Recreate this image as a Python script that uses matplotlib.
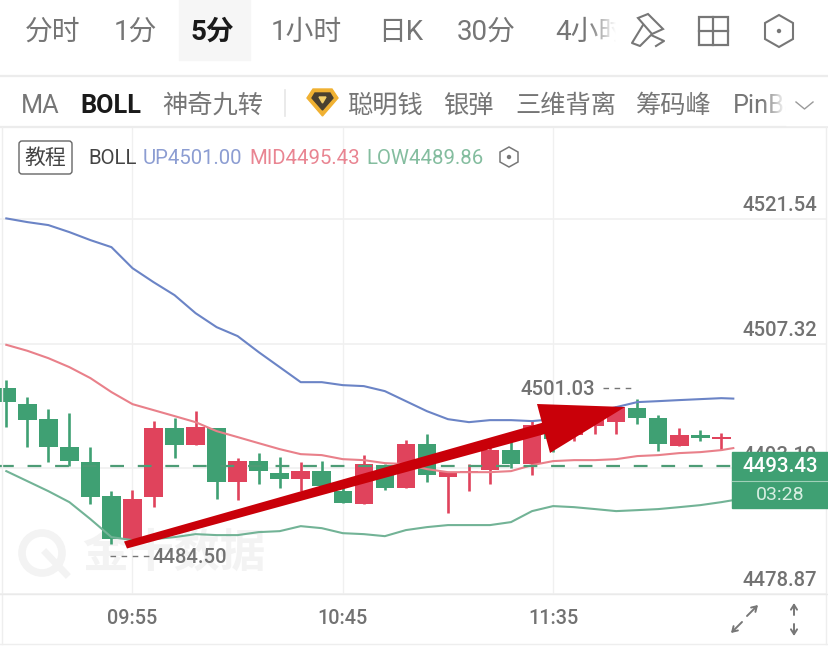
import numpy as np
import matplotlib
matplotlib.use("Agg")
import matplotlib.pyplot as plt
from matplotlib.patches import Polygon, Rectangle, FancyBboxPatch, Circle

plt.rcParams['font.family'] = ['Roboto', 'Noto Sans CJK SC', 'DejaVu Sans']

# ---- data ----
candle_top = [4502.29,4500.54,4498.77,4495.61,4493.90,4490.00,4489.70,4497.70,4497.77,4497.82,
              4497.77,4493.98,4493.95,4492.62,4492.85,4492.85,4490.54,4493.61,4493.53,4495.95,
              4495.95,4492.70,4492.88,4495.27,4495.27,4498.08,4498.77,4498.20,4498.77,4500.10,
              4499.98,4498.85,4496.95,4496.95,4496.74]
candle_bottom = [4500.66,4498.64,4495.57,4493.98,4489.85,4485.11,4485.11,4489.88,4495.84,4495.80,
                 4491.63,4491.60,4492.88,4491.98,4491.91,4491.11,4489.21,4489.09,4490.91,4490.91,
                 4492.36,4492.20,4492.70,4493.00,4493.65,4493.65,4496.49,4496.95,4498.00,4498.46,
                 4498.88,4495.88,4495.73,4496.57,4496.49]
candle_high = [4503.24,4501.24,4499.91,4499.43,4495.61,4490.61,4490.73,4498.57,4498.88,4499.72,
               4497.77,4494.29,4494.90,4494.43,4493.90,4494.02,4491.00,4494.67,4493.65,4496.40,
               4497.05,4492.70,4493.65,4495.55,4496.30,4498.57,4499.34,4498.77,4499.68,4500.25,
               4501.03,4499.22,4497.73,4497.53,4497.24]
candle_low = [4497.82,4495.61,4493.91,4493.45,4489.09,4484.55,4484.50,4488.72,4494.30,4495.80,
              4489.73,4489.57,4491.36,4490.95,4490.61,4491.00,4489.21,4489.09,4490.69,4490.91,
              4491.63,4488.14,4490.54,4491.36,4493.19,4492.43,4495.01,4496.30,4497.05,4497.05,
              4498.20,4495.09,4495.66,4496.30,4495.27]
candle_up = [0,0,0,0,0,0,1,1,0,1,0,1,0,0,1,0,0,1,0,1,0,1,1,1,0,1,0,1,1,1,0,0,1,0,1]

line_index = list(range(35)) + [34.57]
boll_up = [4521.60,4521.18,4520.84,4520.04,4519.13,4518.33,4515.94,4514.35,4512.87,4510.82,
           4509.23,4508.21,4506.39,4504.68,4502.97,4502.97,4502.63,4502.52,4501.95,4500.81,
           4499.67,4498.76,4498.42,4498.65,4498.65,4498.54,4498.76,4499.11,4499.56,4500.13,
           4500.70,4500.81,4500.93,4501.04,4501.15,4501.10]
boll_mid = [4507.22,4506.54,4505.70,4504.68,4503.43,4501.84,4500.47,4499.79,4499.11,4498.42,
            4497.40,4496.72,4496.03,4495.35,4494.78,4494.67,4494.21,4494.10,4493.76,4493.65,
            4493.08,4492.73,4492.73,4492.73,4492.85,4493.53,4493.99,4494.10,4494.10,4494.21,
            4494.56,4494.67,4494.90,4495.01,4495.24,4495.47]
boll_low = [4492.85,4491.71,4490.57,4489.32,4487.39,4485.34,4485.00,4485.11,4485.34,4485.68,
            4485.57,4485.57,4485.91,4486.02,4486.59,4486.36,4485.79,4485.68,4485.45,4486.14,
            4486.48,4486.71,4486.71,4486.71,4487.05,4488.30,4488.87,4488.75,4488.53,4488.30,
            4488.41,4488.53,4488.75,4488.98,4489.32,4489.55]

price_ticks = [4521.54, 4507.32, 4493.19, 4478.87]
time_ticks = [6, 16, 26]
time_labels = ['09:55', '10:45', '11:35']
last_price = 4493.43
countdown = '03:28'
high_price = 4501.03
low_price = 4484.50

W, H = 829, 647
GREEN, RED = '#3fa073', '#e0435c'
BLUE_L, RED_L, GREEN_L = '#6b84c6', '#e9808a', '#72b396'
GRID = '#f0f0f0'
TXT = '#767676'
NUM = dict(fontsize=14.6, color='#727272', weight='medium')

fig = plt.figure(figsize=(W/100, H/100), dpi=100, facecolor='white')

def px_axes(z):
    a = fig.add_axes([0, 0, 1, 1], zorder=z)
    a.set_xlim(0, W); a.set_ylim(H, 0); a.axis('off'); a.patch.set_alpha(0)
    return a

bg = px_axes(0)
fg = px_axes(2)

# ---- watermark ----
bg.add_patch(Circle((42, 553), 20, fill=False, ec='#f3f3f3', lw=5.5))
bg.plot([46, 66], [553, 574], color='#f3f3f3', lw=5)
bg.text(174, 555, '金十数据', fontsize=33, color='#f3f3f3', weight='bold', ha='center', va='center')

# ---- chart axes ----
top_px, bot_px = 127, 594
ax = fig.add_axes([0, 1 - bot_px/H, 1, (bot_px - top_px)/H], zorder=1)
ax.patch.set_alpha(0)
xstep = 21.03
ax.set_xlim(-6.3/xstep, (W - 6.3)/xstep)
ppu = 8.79
ax.set_ylim(price_ticks[-1], price_ticks[-1] + (bot_px - top_px)/ppu)
for s in ax.spines.values():
    s.set_visible(False)
ax.tick_params(left=False, bottom=False, labelleft=False, labelbottom=False)
ax.set_xticks(time_ticks); ax.set_yticks(price_ticks)
ax.set_axisbelow(True)
ax.vlines(time_ticks, ax.get_ylim()[0], ax.get_ylim()[1], color=GRID, lw=1, zorder=0)
ax.hlines(price_ticks, ax.get_xlim()[0], (826-6.3)/xstep, color=GRID, lw=1.2, zorder=0)

idx = np.arange(len(candle_top))
cols = [RED if u else GREEN for u in candle_up]
ax.vlines(idx, candle_low, candle_high, colors=cols, lw=1.9, zorder=2)
ax.bar(idx, np.array(candle_top) - np.array(candle_bottom), bottom=candle_bottom,
       width=0.88, color=cols, zorder=3)

ax.plot(line_index, boll_up, color=BLUE_L, lw=1.5, zorder=4)
ax.plot(line_index, boll_mid, color=RED_L, lw=1.5, zorder=4)
ax.plot(line_index, boll_low, color=GREEN_L, lw=1.5, zorder=4)
ax.hlines(last_price, -0.3, 34.57, color='#4d9c76', lw=1.6, linestyles=(0, (6.2, 6.2)), zorder=4)

for p in price_ticks:
    ax.annotate(f'{p:.2f}', xy=(1, p), xycoords=('axes fraction', 'data'),
                xytext=(-12, 13), textcoords='offset pixels', ha='right', va='center', zorder=1, **NUM)
ax.annotate(f'{high_price:.2f}', xy=(30, high_price), xytext=(-42, 10), textcoords='offset pixels',
            ha='right', va='center', **NUM)
ax.annotate(f'{low_price:.2f}', xy=(6, low_price), xytext=(20, -13), textcoords='offset pixels',
            ha='left', va='center', **NUM)

# ---- chrome ----
fg.add_patch(Rectangle((179, 0), 71, 60, color='#f6f6f6', zorder=0))
fg.plot([0, W], [76, 76], color='#ececec', lw=1.6)
fg.plot([0, W], [127, 127], color='#ececec', lw=1.6)
fg.plot([0, W], [644, 644], color='#eeeeee', lw=1)
fg.plot([2, 2], [127, 644], color='#eeeeee', lw=1)
fg.plot([826, 826], [127, 644], color='#eeeeee', lw=1)
fg.plot([0, W], [594, 594], color='#eaeaea', lw=1)

for x, s, c, w in [(25, '分时', TXT, 'normal'), (114, '1分', TXT, 'normal'), (191, '5分', '#1a1a1a', 'bold'),
                   (271, '1小时', TXT, 'normal'), (378, '日K', TXT, 'normal'), (457, '30分', TXT, 'normal'),
                   (555, '4小时', TXT, 'normal')]:
    fg.text(x, 32, s, fontsize=20, color=c, weight=w, va='center', ha='left')
for x, s, c, w in [(21, 'MA', TXT, 'normal'), (80, 'BOLL', '#1a1a1a', 'bold'), (162, '神奇九转', TXT, 'normal'),
                   (347, '聪明钱', TXT, 'normal'), (443, '银弹', TXT, 'normal'), (515, '三维背离', TXT, 'normal'),
                   (636, '筹码峰', TXT, 'normal'), (733, 'PinBar', TXT, 'normal')]:
    fg.text(x, 106, s, fontsize=18.2, color=c, weight=w, va='center', ha='left')

# fades over clipped tab texts
grad = np.linspace(0, 1, 64)[None, :, None]
white = np.concatenate([np.ones((1, 64, 3)), grad], axis=2)
fg.imshow(white, extent=(588, 616, 60, 0), aspect='auto', zorder=3)
fg.add_patch(Rectangle((616, 0), 16, 60, color='white', zorder=3))
fg.imshow(white, extent=(762, 786, 125, 85), aspect='auto', zorder=3)
fg.add_patch(Rectangle((786, 85), 43, 40, color='white', zorder=3))
fg.set_xlim(0, W); fg.set_ylim(H, 0)

ICON = '#777777'
# pencil icon
fg.add_patch(Polygon([(638, 18), (648, 14), (663, 29), (652, 34)], closed=True, fill=False, ec=ICON, lw=1.5, zorder=4))
fg.plot([643, 632, 640, 651, 664, 656], [25, 43, 46, 35, 41, 46], color=ICON, lw=1.5, zorder=4)
# grid icon
fg.add_patch(Rectangle((699, 17), 29, 28, fill=False, ec=ICON, lw=1.6, zorder=4))
fg.plot([713.5, 713.5], [17, 45], color=ICON, lw=1.6, zorder=4)
fg.plot([699, 728], [31, 31], color=ICON, lw=1.6, zorder=4)

def hexagon(cx, cy, rx, ry, lw):
    pts = [(cx, cy-ry), (cx+rx, cy-ry/2), (cx+rx, cy+ry/2), (cx, cy+ry), (cx-rx, cy+ry/2), (cx-rx, cy-ry/2)]
    fg.add_patch(Polygon(pts, closed=True, fill=False, ec=ICON, lw=lw, zorder=4))
    fg.add_patch(Circle((cx, cy), 1.5, color=ICON, zorder=4))
hexagon(779, 31, 14, 16, 1.5)
hexagon(509, 157, 9, 10, 1.1)

# separator and gem badge
fg.plot([285, 285], [90, 116], color='#e6e6e6', lw=1.2, zorder=4)
fg.add_patch(Polygon([(313, 89), (332, 89), (338, 98), (322.5, 116), (307, 98)], closed=True, color='#f0b132', zorder=4))
fg.add_patch(Polygon([(315, 93), (330, 93), (333, 98), (322.5, 110), (312, 98)], closed=True, color='#4a4030', zorder=5))
fg.add_patch(Polygon([(319, 97), (326, 97), (322.5, 103)], closed=True, color='#f3cf6a', zorder=6))
# chevron
fg.plot([796, 804.5, 813], [102, 109, 102], color='#9a9a9a', lw=1, zorder=5)

# legend row
fg.add_patch(FancyBboxPatch((19, 141), 53, 33, boxstyle='round,pad=0,rounding_size=3', fill=False, ec='#666666', lw=1))
fg.text(45.5, 158.5, '教程', fontsize=15, color='#444444', ha='center', va='center')
for x, s, c in [(88, 'BOLL', '#444444'), (143, 'UP4501.00', '#8c9dd2'), (249, 'MID4495.43', '#e98592'), (366, 'LOW4489.86', '#84bd9f')]:
    fg.text(x, 158.5, s, fontsize=14.7, color=c, ha='left', va='center')

# time labels
for i, lab in zip(time_ticks, time_labels):
    ax.annotate(lab, xy=(i, 0), xycoords=('data', 'axes fraction'), xytext=(0, -25), textcoords='offset pixels',
                ha='center', va='center', fontsize=14.3, color='#727272', weight='medium', annotation_clip=False)

# dashes beside the extremes
fg.plot([603, 633], [388, 388], color=TXT, lw=1, ls=(0, (4, 4)))
fg.plot([110, 149], [556, 556], color=TXT, lw=1, ls=(0, (4, 4)))

# last price tag
fg.add_patch(Rectangle((732, 452), 96, 56, color='#3fa073', zorder=5))
fg.plot([732, 828], [481, 481], color='#9fd0b8', lw=0.8, zorder=6)
fg.text(780.5, 467, f'{last_price:.2f}', fontsize=14.8, color='white', ha='center', va='center', weight='medium', zorder=6)
fg.text(780, 495, countdown, fontsize=14, color='#d7eee2', ha='center', va='center', zorder=6)

# corner arrows
for a, b in [((747, 616), (758, 605)), ((742, 622), (731, 633)), ((794, 615), (794, 603)), ((794, 624), (794, 636))]:
    fg.annotate('', xy=b, xytext=a, arrowprops=dict(arrowstyle='->,head_width=0.22,head_length=0.35', color=ICON, lw=1.4, shrinkA=0, shrinkB=0))

# hand-drawn red arrow overlay
ARROW = '#c90009'
fg.add_patch(Polygon([(124, 541.5), (127, 548.5), (556, 431), (552, 420)], closed=True, color=ARROW, lw=0, zorder=7))
fg.add_patch(Polygon([(537, 404), (625, 407), (550, 453)], closed=True, color=ARROW, lw=0, zorder=7))

fig.savefig('out.png', dpi=100, facecolor='white')
